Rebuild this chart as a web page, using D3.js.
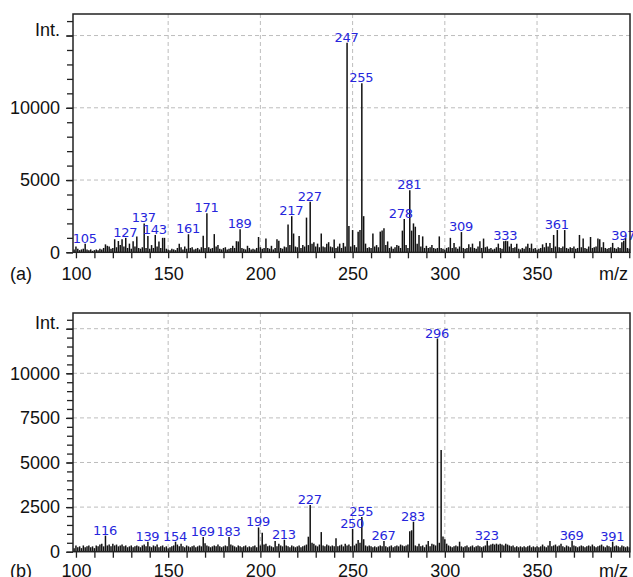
<!DOCTYPE html>
<html><head><meta charset="utf-8">
<script src="https://cdn.jsdelivr.net/npm/d3@7"></script>
<style>body{margin:0;background:#fff} svg{display:block}</style>
</head><body><svg id="c" width="633" height="577"></svg>
<script>
// m/z of the first value in each intensity array (one value per integer m/z)
const mzStart = 99;
// Panel (a) intensities, m/z 99..400
const intensityA = [
200,400,250,150,200,250,600,200,150,200,
100,150,200,150,250,200,300,550,450,400,
250,300,900,350,780,500,900,400,1000,300,
600,250,770,400,1100,300,250,350,2000,300,
1130,250,500,300,1200,400,750,300,1000,1000,
250,200,150,250,200,150,300,600,350,200,
400,250,1250,300,350,200,250,300,200,350,
1150,300,2700,350,250,300,1260,400,500,250,
200,300,350,200,250,300,450,300,770,750,
1600,300,250,200,450,300,200,250,200,300,
1060,350,250,300,950,300,250,450,200,300,
900,800,300,250,400,350,1920,500,2500,1300,
400,350,1130,300,500,400,2400,500,3500,600,
700,400,600,350,1300,400,350,600,700,400,
350,880,300,400,600,300,650,400,14500,1820,
400,1540,500,350,1430,1540,11700,2500,600,300,
350,300,1300,400,500,350,1430,1500,1660,500,
750,300,400,250,350,500,450,300,1500,2300,
500,300,4300,1500,2000,1770,600,1200,400,1100,
300,450,300,350,500,300,250,300,1100,300,
250,200,300,350,1000,300,650,350,250,400,
1400,300,250,300,550,350,600,300,250,400,
770,300,950,350,400,250,300,200,250,350,
600,300,250,770,800,770,400,600,300,350,
600,250,200,300,250,400,600,300,600,250,
300,200,250,300,550,350,650,400,650,300,
1200,400,1540,350,300,400,1540,300,250,350,
300,400,250,300,1200,350,950,300,250,400,
1060,300,350,400,950,900,350,700,300,250,
300,350,650,300,250,350,300,700,800,1000,
300,250];
// Panel (b) intensities, m/z 99..400
const intensityB = [
200,350,250,300,200,350,250,300,350,250,
300,200,350,300,400,450,300,900,350,400,
300,450,350,400,300,350,400,300,350,250,
300,350,250,300,350,300,250,350,400,300,
560,300,250,350,300,400,250,300,350,250,
300,200,250,300,350,560,400,300,450,300,
250,350,300,250,300,350,250,300,350,300,
820,480,350,300,250,300,350,300,400,300,
250,300,350,300,820,400,350,300,250,350,
300,250,300,350,250,300,250,300,350,250,
1360,350,1060,400,450,300,350,300,250,600,
300,450,350,300,670,350,300,250,350,300,
250,300,350,250,300,350,400,840,2620,500,
450,350,300,400,1100,350,300,400,350,300,
350,300,750,300,350,400,300,450,350,400,
300,1280,350,450,650,500,1950,700,350,300,
350,300,250,300,250,300,350,300,600,300,
250,300,350,250,300,350,300,400,350,300,
350,400,1150,1200,1680,350,300,450,300,350,
250,400,600,300,450,400,350,11950,500,5700,
850,700,450,350,300,250,300,350,300,560,
300,250,300,350,250,300,350,250,300,350,
300,250,300,350,620,350,400,450,400,450,
400,450,400,350,450,400,350,300,350,250,
300,250,300,250,300,250,300,350,250,300,
250,300,250,300,400,300,250,350,600,300,
350,400,300,350,450,300,250,350,300,250,
620,350,300,250,300,350,300,250,300,350,
300,400,300,250,300,350,400,300,250,350,
300,250,560,300,350,300,250,350,300,250,
300,250];
const labelsA = [105,127,137,143,161,171,189,217,227,247,255,278,281,309,333,361,397];
const labelsB = [116,139,154,169,183,199,213,227,250,255,267,283,296,323,369,391];
const xTickValues = [100,150,200,250,300,350];
const yTicksA = [0,5000,10000,15000];
const yTickTextA = ["0","5000","10000","Int."];
const yTicksB = [0,2500,5000,7500,10000,12500];
const yTickTextB = ["0","2500","5000","7500","10000","Int."];
const panelTags = ["(a)","(b)"];
const xUnit = "m/z";

const svg = d3.select("#c");
const L = 73, R = 630;
const x = d3.scaleLinear().domain([98.4, 400.4]).range([L, R]);
const labelShift = {278: -3};

function panel(cfg) {
  const y = d3.scaleLinear().domain([0, cfg.yMax]).range([cfg.bottom, cfg.top]);
  const g = svg.append("g");
  // gridlines
  g.selectAll(null).data(xTickValues.filter(v => v > 100)).join("line")
    .attr("x1", d => x(d)).attr("x2", d => x(d))
    .attr("y1", cfg.top).attr("y2", cfg.bottom)
    .attr("stroke", "#bdbdbd").attr("stroke-width", 1).attr("stroke-dasharray", "4,3");
  g.selectAll(null).data(cfg.yTicks.filter(v => v > 0)).join("line")
    .attr("x1", L).attr("x2", R)
    .attr("y1", d => y(d)).attr("y2", d => y(d))
    .attr("stroke", "#bdbdbd").attr("stroke-width", 1).attr("stroke-dasharray", "4,3");
  // peaks
  const data = cfg.values.map((v, i) => ({mz: mzStart + i, v}));
  g.selectAll(null).data(data).join("line")
    .attr("x1", d => x(d.mz)).attr("x2", d => x(d.mz))
    .attr("y1", y(0)).attr("y2", d => y(d.v))
    .attr("stroke", "#111").attr("stroke-width", 1.5);
  // peak labels
  const lab = cfg.labels.map(m => ({mz: m, v: cfg.values[m - mzStart]}));
  g.selectAll(null).data(lab).join("text")
    .attr("x", d => x(d.mz) - 0.5 + (labelShift[d.mz] && cfg.shift ? labelShift[d.mz] : 0))
    .attr("y", d => y(d.v) - 1)
    .attr("text-anchor", "middle")
    .attr("font-family", "DejaVu Sans, Verdana, sans-serif")
    .attr("font-size", "13px")
    .attr("letter-spacing", "-0.3px")
    .attr("fill", "#2626dc")
    .text(d => d.mz);
  // frame
  g.append("rect").attr("x", L).attr("y", cfg.top).attr("width", R - L).attr("height", cfg.bottom - cfg.top)
    .attr("fill", "none").attr("stroke", "#222").attr("stroke-width", 1.5);
  // y axis minor ticks
  const minor = d3.range(0, cfg.yMax, cfg.minorStep);
  const ay1 = g.append("g").attr("transform", `translate(${L},0)`)
    .call(d3.axisLeft(y).tickValues(minor).tickSize(6).tickFormat(""));
  ay1.select(".domain").remove();
  const ay2 = g.append("g").attr("transform", `translate(${L},0)`)
    .call(d3.axisLeft(y).tickValues(cfg.yTicks).tickSize(7).tickPadding(6)
      .tickFormat((d, i) => cfg.yText[i]));
  ay2.select(".domain").remove();
  ay2.selectAll("text").attr("font-family", "Liberation Sans, Arial, sans-serif")
    .attr("font-size", "18px").attr("fill", "#111")
    .filter(function(){ return this.textContent === "Int."; }).attr("dy", "0em");
  g.selectAll(".tick line").attr("stroke", "#222").attr("stroke-width", 1.3);
  // x axis
  const ax = g.append("g").attr("transform", `translate(0,${cfg.bottom})`)
    .call(d3.axisBottom(x).tickValues(d3.range(100, 401, 10)).tickSize(6).tickPadding(cfg.xPad)
      .tickFormat(d => xTickValues.includes(d) ? d : ""));
  ax.select(".domain").remove();
  ax.selectAll("line").attr("stroke", "#222").attr("stroke-width", 1.3);
  ax.selectAll("text").attr("font-family", "Liberation Sans, Arial, sans-serif")
    .attr("font-size", "18px").attr("fill", "#111");
  // tag and unit
  const ty = cfg.bottom + 6 + cfg.xPad;
  g.append("text").attr("x", 10).attr("y", ty).attr("dy", "0.71em")
    .attr("font-family", "Liberation Sans, Arial, sans-serif").attr("font-size", "18px").attr("fill", "#111")
    .text(cfg.tag);
  g.append("text").attr("x", 628).attr("y", ty).attr("dy", "0.71em").attr("text-anchor", "end")
    .attr("font-family", "Liberation Sans, Arial, sans-serif").attr("font-size", "18px").attr("fill", "#111")
    .text(xUnit);
}

panel({values: intensityA, labels: labelsA, yTicks: yTicksA, yText: yTickTextA,
  yMax: 16490, top: 14, bottom: 252.3, minorStep: 1000, xPad: 9, tag: panelTags[0], shift: true});
panel({values: intensityB, labels: labelsB, yTicks: yTicksB, yText: yTickTextB,
  yMax: 13380, top: 313, bottom: 551.7, minorStep: 500, xPad: 6.5, tag: panelTags[1], shift: false});
</script></body></html>
